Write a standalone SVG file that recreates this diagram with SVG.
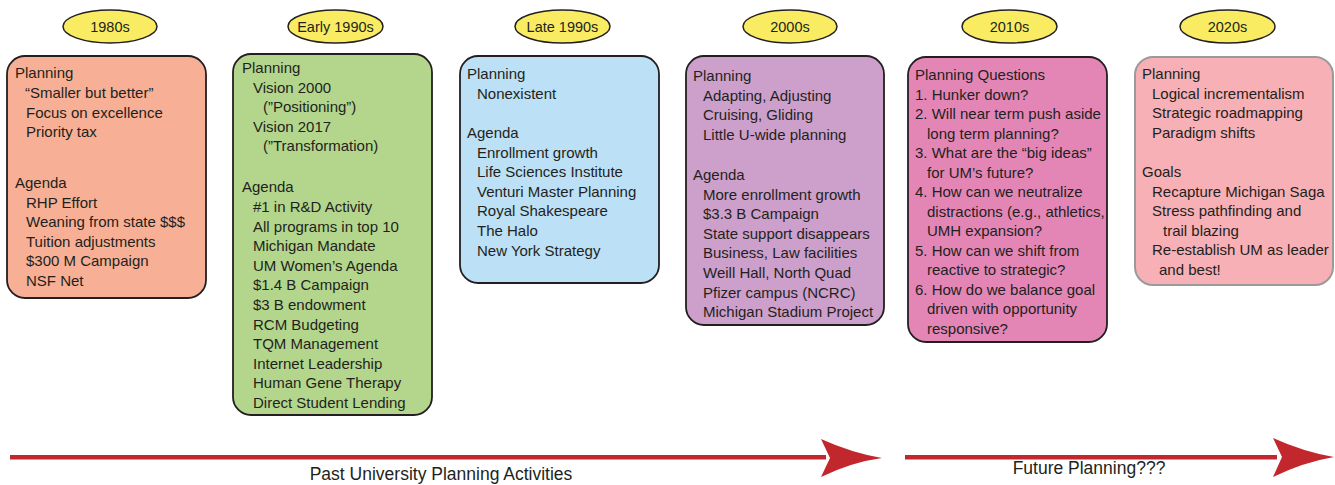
<svg xmlns="http://www.w3.org/2000/svg" width="1335" height="485" viewBox="0 0 1335 485">
<style>
.era ellipse{fill:#F9EC63;stroke:#231F20;stroke-width:1.5}
.era text{font-family:"Liberation Sans",Arial,sans-serif;font-size:14.5px;fill:#231F20;text-anchor:middle}
.box rect{stroke:#231F20;stroke-width:1.8}
.box text{font-family:"Liberation Sans",Arial,sans-serif;font-size:15px;fill:#231F20}
.lbl{font-family:"Liberation Sans",Arial,sans-serif;font-size:17.5px;fill:#231F20;text-anchor:middle}
.arr{fill:#C1272D}
</style>
<g id="era-1980s" class="era"><ellipse cx="110" cy="26.5" rx="47" ry="16.5"/><text x="110" y="31.5">1980s</text></g>
<g id="era-early1990s" class="era"><ellipse cx="335.5" cy="26.5" rx="47.5" ry="16.5"/><text x="335.5" y="31.5">Early 1990s</text></g>
<g id="era-late1990s" class="era"><ellipse cx="562.5" cy="26.5" rx="47.5" ry="16.5"/><text x="562.5" y="31.5">Late 1990s</text></g>
<g id="era-2000s" class="era"><ellipse cx="790" cy="26.5" rx="47" ry="16.5"/><text x="790" y="31.5">2000s</text></g>
<g id="era-2010s" class="era"><ellipse cx="1009.5" cy="26.5" rx="47.5" ry="16.5"/><text x="1009.5" y="31.5">2010s</text></g>
<g id="era-2020s" class="era"><ellipse cx="1227.5" cy="26.5" rx="47.5" ry="16.5"/><text x="1227.5" y="31.5">2020s</text></g>

<g id="box-1980s" class="box">
<rect x="7" y="56" width="199" height="242" rx="18" fill="#F7B095"/>
<text x="15" y="78">Planning</text>
<text x="25" y="98">“Smaller but better”</text>
<text x="26" y="117.5">Focus on excellence</text>
<text x="26" y="137">Priority tax</text>
<text x="15" y="188">Agenda</text>
<text x="26" y="207.5">RHP Effort</text>
<text x="26" y="227">Weaning from state $$$</text>
<text x="26" y="246.5">Tuition adjustments</text>
<text x="26" y="266">$300 M Campaign</text>
<text x="26" y="285.5">NSF Net</text>
</g>

<g id="box-early1990s" class="box">
<rect x="233" y="54" width="199" height="361" rx="18" fill="#B3D68C"/>
<text x="242" y="73">Planning</text>
<text x="253" y="92.6">Vision 2000</text>
<text x="263" y="112.2">(”Positioning”)</text>
<text x="253" y="131.8">Vision 2017</text>
<text x="263" y="151.4">(”Transformation)</text>
<text x="242" y="192">Agenda</text>
<text x="253" y="212">#1 in R&amp;D Activity</text>
<text x="253" y="231.6">All programs in top 10</text>
<text x="253" y="251.2">Michigan Mandate</text>
<text x="253" y="270.8">UM Women’s Agenda</text>
<text x="253" y="290.4">$1.4 B Campaign</text>
<text x="253" y="310">$3 B endowment</text>
<text x="253" y="329.6">RCM Budgeting</text>
<text x="253" y="349.2">TQM Management</text>
<text x="253" y="368.8">Internet Leadership</text>
<text x="253" y="388.4">Human Gene Therapy</text>
<text x="253" y="408">Direct Student Lending</text>
</g>

<g id="box-late1990s" class="box">
<rect x="460" y="56" width="199" height="227" rx="18" fill="#BCE0F5"/>
<text x="467" y="79">Planning</text>
<text x="477" y="99">Nonexistent</text>
<text x="467" y="138">Agenda</text>
<text x="477" y="157.6">Enrollment growth</text>
<text x="477" y="177.2">Life Sciences Institute</text>
<text x="477" y="196.8">Venturi Master Planning</text>
<text x="477" y="216.4">Royal Shakespeare</text>
<text x="477" y="236">The Halo</text>
<text x="477" y="255.6">New York Strategy</text>
</g>

<g id="box-2000s" class="box">
<rect x="686" y="56" width="198" height="269" rx="18" fill="#CD9FCB"/>
<text x="693" y="81">Planning</text>
<text x="703" y="100.6">Adapting, Adjusting</text>
<text x="703" y="120.2">Cruising, Gliding</text>
<text x="703" y="139.8">Little U-wide planning</text>
<text x="693" y="180">Agenda</text>
<text x="703" y="199.6">More enrollment growth</text>
<text x="703" y="219.2">$3.3 B Campaign</text>
<text x="703" y="238.8">State support disappears</text>
<text x="703" y="258.4">Business, Law facilities</text>
<text x="703" y="278">Weill Hall, North Quad</text>
<text x="703" y="297.6">Pfizer campus (NCRC)</text>
<text x="703" y="317.2">Michigan Stadium Project</text>
</g>

<g id="box-2010s" class="box">
<rect x="908" y="57" width="199" height="285" rx="18" fill="#E386B6"/>
<text x="915" y="80">Planning Questions</text>
<text x="915" y="99.5">1. Hunker down?</text>
<text x="915" y="119">2. Will near term push aside</text>
<text x="927" y="138.5">long term planning?</text>
<text x="915" y="158">3. What are the “big ideas”</text>
<text x="927" y="177.5">for UM’s future?</text>
<text x="915" y="197">4. How can we neutralize</text>
<text x="927" y="216.5">distractions (e.g., athletics,</text>
<text x="927" y="236">UMH expansion?</text>
<text x="915" y="255.5">5. How can we shift from</text>
<text x="927" y="275">reactive to strategic?</text>
<text x="915" y="294.5">6. How do we balance goal</text>
<text x="927" y="314">driven with opportunity</text>
<text x="927" y="333.5">responsive?</text>
</g>

<g id="box-2020s" class="box">
<rect x="1135" y="57" width="198" height="228" rx="18" fill="#F7B0B6" style="stroke:#9A9A9A;stroke-width:2"/>
<text x="1142" y="79">Planning</text>
<text x="1152" y="98.6">Logical incrementalism</text>
<text x="1152" y="118.2">Strategic roadmapping</text>
<text x="1152" y="137.8">Paradigm shifts</text>
<text x="1142" y="177">Goals</text>
<text x="1152" y="196.6">Recapture Michigan Saga</text>
<text x="1152" y="216.2">Stress pathfinding and</text>
<text x="1163" y="235.8">trail blazing</text>
<text x="1152" y="255.4">Re-establish UM as leader</text>
<text x="1159" y="275">and best!</text>
</g>

<g id="connectors">
<rect class="arr" x="10" y="455" width="816" height="4.5"/>
<path class="arr" d="M821,439 Q852,453 882,458 Q852,462 821,477 L830,458 Z"/>
<rect class="arr" x="905" y="455" width="372" height="4.5"/>
<path class="arr" d="M1273,438 Q1304,452 1334,457 Q1304,462 1273,477 L1282,457 Z"/>
<text class="lbl" x="441" y="480">Past University Planning Activities</text>
<text class="lbl" x="1089" y="474">Future Planning???</text>
</g>
</svg>
